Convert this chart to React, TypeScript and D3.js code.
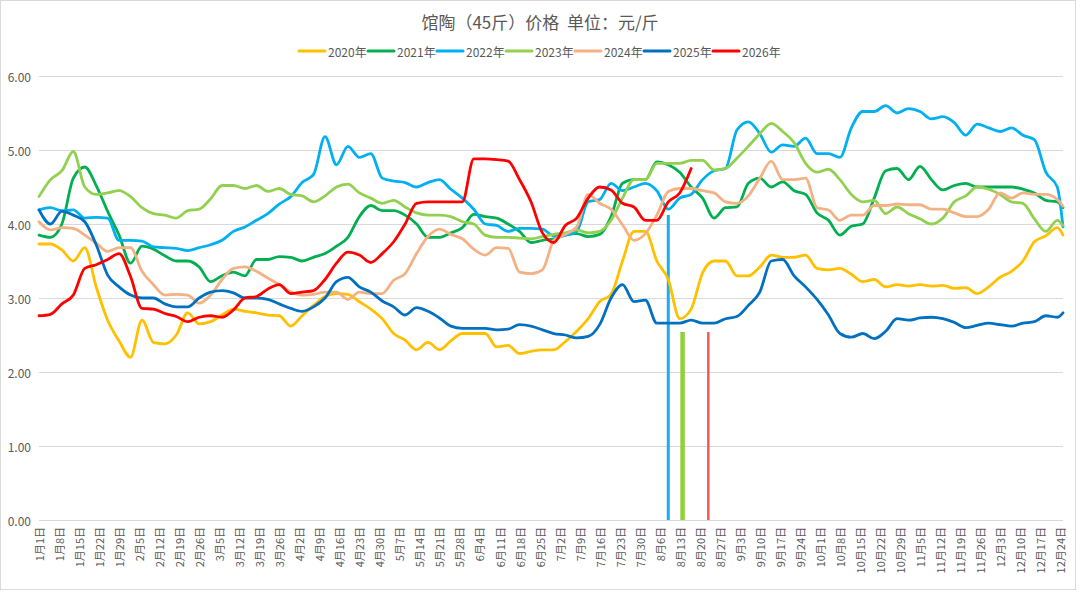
import { useEffect, useRef } from "react";
import * as d3 from "d3";

const W = 1080;
const H = 592;
const PLOT = { left: 39, right: 1063, top: 76, bottom: 520 };
const FONT = '"Microsoft YaHei", "Noto Sans CJK SC", sans-serif';

const TITLE = "馆陶（45斤）价格  单位：元/斤";
const YEARS = ["2020年", "2021年", "2022年", "2023年", "2024年", "2025年", "2026年"];
const COLORS = ["#FFC000", "#00B050", "#00B0F0", "#92D050", "#F4B183", "#0070C0", "#FF0000"];
const Y_TICKS = [0, 1, 2, 3, 4, 5, 6];

const X_LABELS = [
  "1月1日", "1月8日", "1月15日", "1月22日", "1月29日", "2月5日", "2月12日", "2月19日", "2月26日",
  "3月5日", "3月12日", "3月19日", "3月26日", "4月2日", "4月9日", "4月16日", "4月23日", "4月30日",
  "5月7日", "5月14日", "5月21日", "5月28日", "6月4日", "6月11日", "6月18日", "6月25日", "7月2日",
  "7月9日", "7月16日", "7月23日", "7月30日", "8月6日", "8月13日", "8月20日", "8月27日", "9月3日",
  "9月10日", "9月17日", "9月24日", "10月1日", "10月8日", "10月15日", "10月22日", "10月29日",
  "11月5日", "11月12日", "11月19日", "11月26日", "12月3日", "12月10日", "12月17日", "12月24日",
];

// sampled every 4 days from 1月1日, last value on day 358
const SAMPLE_DAYS = [...d3.range(0, 357, 4), 358];

const PRICE_2020 = [
  3.73, 3.73, 3.65, 3.5, 3.68, 3.15, 2.7, 2.42, 2.2, 2.7, 2.4, 2.38, 2.5, 2.8, 2.65, 2.68,
  2.77, 2.85, 2.82, 2.8, 2.77, 2.76, 2.62, 2.76, 2.9, 3.02, 3.06, 3.05, 2.95, 2.85, 2.72,
  2.52, 2.43, 2.3, 2.4, 2.3, 2.42, 2.52, 2.52, 2.52, 2.34, 2.36, 2.25, 2.28, 2.3, 2.3,
  2.41, 2.55, 2.72, 2.95, 3.05, 3.5, 3.9, 3.9, 3.5, 3.25, 2.72, 2.85, 3.34, 3.5, 3.5, 3.3,
  3.3, 3.42, 3.58, 3.55, 3.55, 3.58, 3.4, 3.38, 3.4, 3.32, 3.22, 3.25, 3.15, 3.18, 3.16,
  3.18, 3.16, 3.17, 3.13, 3.14, 3.06, 3.15, 3.28, 3.36, 3.5, 3.76, 3.84, 3.95, 3.85,
];
const PRICE_2021 = [
  3.85, 3.82, 4.0, 4.62, 4.77, 4.52, 4.17, 3.85, 3.47, 3.7, 3.66, 3.57, 3.5, 3.5, 3.42, 3.22,
  3.3, 3.35, 3.3, 3.52, 3.52, 3.56, 3.55, 3.5, 3.55, 3.6, 3.7, 3.82, 4.1, 4.25, 4.18,
  4.18, 4.12, 4.0, 3.82, 3.82, 3.88, 3.95, 4.13, 4.1, 4.08, 4.0, 3.9, 3.75, 3.78, 3.8,
  3.85, 3.87, 3.83, 3.86, 4.1, 4.55, 4.6, 4.6, 4.84, 4.8, 4.7, 4.5, 4.35, 4.08, 4.22, 4.23,
  4.55, 4.62, 4.5, 4.57, 4.45, 4.4, 4.15, 4.05, 3.85, 3.97, 4.0, 4.35, 4.72, 4.75, 4.6,
  4.78, 4.6, 4.46, 4.52, 4.55, 4.5, 4.5, 4.5, 4.5, 4.47, 4.42, 4.32, 4.3, 4.22,
];
const PRICE_2022 = [
  4.19, 4.22, 4.18, 4.19, 4.08, 4.09, 4.08, 3.78, 3.78, 3.77, 3.69, 3.68, 3.67, 3.64, 3.68, 3.72,
  3.78, 3.9, 3.96, 4.05, 4.14, 4.27, 4.37, 4.56, 4.67, 5.18, 4.8, 5.05, 4.9, 4.95, 4.62,
  4.58, 4.56, 4.5, 4.56, 4.6, 4.47, 4.35, 4.2, 4.0, 3.98, 3.9, 3.94, 3.94, 3.93, 3.84,
  3.85, 3.9, 4.3, 4.33, 4.55, 4.45, 4.5, 4.55, 4.45, 4.2, 4.35, 4.4, 4.6, 4.72, 4.75, 5.27,
  5.38, 5.22, 4.97, 5.07, 5.05, 5.16, 4.95, 4.95, 4.9, 5.3, 5.52, 5.52, 5.6, 5.5, 5.56,
  5.52, 5.42, 5.45, 5.37, 5.2, 5.35, 5.3, 5.25, 5.3, 5.2, 5.14, 4.7, 4.5, 3.96,
];
const PRICE_2023 = [
  4.37, 4.6, 4.72, 4.98, 4.5, 4.4, 4.42, 4.45, 4.37, 4.22, 4.14, 4.12, 4.08, 4.18, 4.2, 4.34,
  4.52, 4.52, 4.48, 4.52, 4.44, 4.48, 4.4, 4.38, 4.3, 4.38, 4.5, 4.54, 4.42, 4.35, 4.28,
  4.32, 4.23, 4.15, 4.12, 4.12, 4.1, 4.03, 4.0, 3.85, 3.82, 3.82, 3.81, 3.8, 3.83, 3.86,
  3.88, 3.92, 3.88, 3.9, 4.05, 4.35, 4.6, 4.6, 4.82, 4.82, 4.82, 4.86, 4.86, 4.73, 4.75, 4.89,
  5.05, 5.22, 5.36, 5.25, 5.1, 4.82, 4.7, 4.74, 4.6, 4.4, 4.3, 4.32, 4.14, 4.23, 4.14,
  4.07, 4.0, 4.08, 4.3, 4.38, 4.5, 4.47, 4.4, 4.3, 4.28, 4.07, 3.9, 4.05, 3.98,
];
const PRICE_2024 = [
  4.03, 3.92, 3.95, 3.94, 3.85, 3.74, 3.63, 3.68, 3.68, 3.36, 3.18, 3.04, 3.05, 3.04, 2.93, 3.04,
  3.25, 3.4, 3.42, 3.36, 3.27, 3.18, 3.08, 3.04, 3.05, 3.08, 3.08, 2.98, 3.08, 3.06, 3.06,
  3.24, 3.33, 3.6, 3.83, 3.93, 3.86, 3.8, 3.66, 3.58, 3.68, 3.67, 3.35, 3.33, 3.38, 3.78,
  3.86, 3.96, 4.4, 4.28, 4.2, 3.99, 3.78, 3.87, 4.12, 4.44, 4.48, 4.48, 4.45, 4.42, 4.3, 4.28,
  4.38, 4.62, 4.85, 4.6, 4.6, 4.62, 4.22, 4.19, 4.05, 4.12, 4.12, 4.25, 4.25, 4.27, 4.26,
  4.26, 4.2, 4.2, 4.15, 4.1, 4.1, 4.2, 4.42, 4.35, 4.42, 4.4, 4.4, 4.33, 4.24,
];
const PRICE_2025 = [
  4.19, 4.0, 4.17, 4.12, 4.03, 3.72, 3.31, 3.15, 3.04, 3.0, 3.0, 2.92, 2.88, 2.88, 3.0, 3.08,
  3.1, 3.07, 3.0, 3.0, 2.98, 2.92, 2.86, 2.82, 2.88, 3.0, 3.22, 3.28, 3.15, 3.08, 2.96,
  2.88, 2.77, 2.87, 2.82, 2.73, 2.62, 2.59, 2.59, 2.59, 2.57, 2.58, 2.64, 2.62, 2.57, 2.52,
  2.5, 2.46, 2.48, 2.64, 3.0, 3.18, 2.95, 2.97, 2.66, 2.66, 2.66, 2.7, 2.66, 2.66, 2.72, 2.75,
  2.9, 3.08, 3.5, 3.52, 3.3, 3.15, 2.98, 2.77, 2.52, 2.47, 2.52, 2.45, 2.55, 2.72, 2.7,
  2.73, 2.74, 2.72, 2.67, 2.6, 2.63, 2.66, 2.64, 2.62, 2.66, 2.68, 2.76, 2.74, 2.8,
];
const PRICE_2026 = [
  2.76, 2.78, 2.92, 3.04, 3.4, 3.45, 3.52, 3.6, 3.29, 2.86, 2.85, 2.79, 2.75, 2.68, 2.74, 2.76,
  2.74, 2.84, 3.0, 3.02, 3.12, 3.18, 3.06, 3.08, 3.1, 3.25, 3.47, 3.62, 3.58, 3.48, 3.6,
  3.76, 4.0, 4.28, 4.3, 4.3, 4.3, 4.3, 4.88, 4.88, 4.87, 4.85, 4.6, 4.3, 3.88, 3.75,
  3.98, 4.08, 4.35, 4.5, 4.46, 4.28, 4.23, 4.05, 4.05, 4.3, 4.42, 4.75,
];
const SERIES = [PRICE_2020, PRICE_2021, PRICE_2022, PRICE_2023, PRICE_2024, PRICE_2025, PRICE_2026];

// the three vertical marks around mid August
const MARK_DAYS = [220, 225, 234];
const MARK_TOPS = [4.12, 2.54, 2.54];
const MARK_COLORS = ["#1AAEEA", "#8FD13A", "#EE5A5A"];
const MARK_WIDTHS = [3, 4.5, 2.5];

export default function App() {
  const svgRef = useRef<SVGSVGElement>(null);

  useEffect(() => {
    if (!svgRef.current) return;
    const svg = d3.select(svgRef.current);
    svg.selectAll("*").remove();

    const x = d3.scaleLinear().domain([0, 358]).range([PLOT.left, PLOT.right]);
    const y = d3.scaleLinear().domain([0, 6]).range([PLOT.bottom, PLOT.top]);

    svg.append("rect")
      .attr("x", 0.5).attr("y", 0.5)
      .attr("width", 1075).attr("height", 589)
      .attr("fill", "#fff")
      .attr("stroke", "#D9D9D9");

    // title
    svg.append("text")
      .attr("x", W / 2).attr("y", 21)
      .attr("text-anchor", "middle")
      .attr("dominant-baseline", "central")
      .attr("font-size", 17)
      .attr("fill", "#595959")
      .style("white-space", "pre")
      .text(TITLE);

    // legend
    const lg = svg.append("g").attr("transform", "translate(299,51)");
    YEARS.forEach((name, i) => {
      const item = lg.append("g").attr("transform", `translate(${i * 69},0)`);
      item.append("line")
        .attr("x1", 0).attr("x2", 26)
        .attr("stroke", COLORS[i])
        .attr("stroke-width", 3)
        .attr("stroke-linecap", "round");
      item.append("text")
        .attr("x", 29)
        .attr("dominant-baseline", "central")
        .attr("font-size", 12)
        .attr("fill", "#595959")
        .text(name);
    });

    // grid + y labels
    const grid = svg.append("g");
    Y_TICKS.forEach((t) => {
      grid.append("line")
        .attr("x1", PLOT.left).attr("x2", PLOT.right)
        .attr("y1", y(t) + 0.5).attr("y2", y(t) + 0.5)
        .attr("stroke", "#D9D9D9");
      grid.append("text")
        .attr("x", 31).attr("y", y(t))
        .attr("text-anchor", "end")
        .attr("dominant-baseline", "central")
        .attr("font-size", 12)
        .attr("fill", "#595959")
        .text(t.toFixed(2));
    });

    // x labels, one per week
    const xl = svg.append("g");
    X_LABELS.forEach((lab, i) => {
      xl.append("text")
        .attr("transform", `translate(${x(i * 7)},527) rotate(-90)`)
        .attr("text-anchor", "end")
        .attr("dominant-baseline", "central")
        .attr("font-size", 11)
        .attr("fill", "#595959")
        .text(lab);
    });

    // vertical marks
    MARK_DAYS.forEach((d, i) => {
      svg.append("line")
        .attr("x1", x(d)).attr("x2", x(d))
        .attr("y1", y(0)).attr("y2", y(MARK_TOPS[i]))
        .attr("stroke", MARK_COLORS[i])
        .attr("stroke-width", MARK_WIDTHS[i]);
    });

    // series lines
    const line = d3.line<number>()
      .x((_, i) => x(SAMPLE_DAYS[i]))
      .y((v) => y(v))
      .curve(d3.curveMonotoneX);

    SERIES.forEach((vals, i) => {
      svg.append("path")
        .datum(vals)
        .attr("fill", "none")
        .attr("stroke", COLORS[i])
        .attr("stroke-width", 2.8)
        .attr("stroke-linejoin", "round")
        .attr("stroke-linecap", "round")
        .attr("d", line);
    });
  }, []);

  return (
    <svg
      ref={svgRef}
      width={W}
      height={H}
      style={{ position: "fixed", left: 0, top: 0, fontFamily: FONT, background: "#fff" }}
    />
  );
}
